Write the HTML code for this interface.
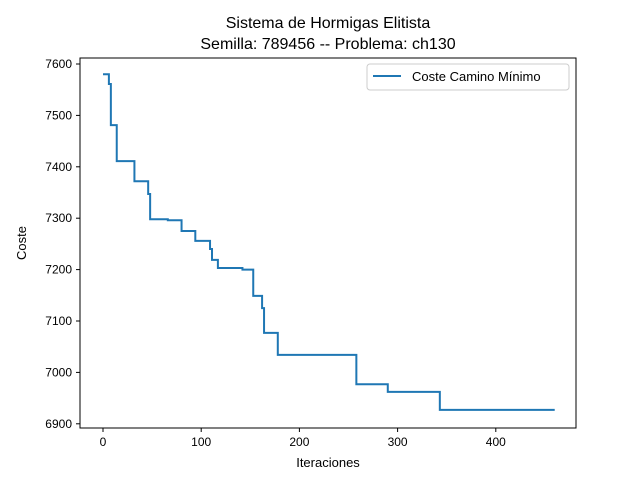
<!DOCTYPE html>
<html><head><meta charset="utf-8"><style>body{margin:0;background:#fff}svg{font-family:"Liberation Sans","DejaVu Sans",sans-serif}</style></head>
<body>
<svg id="c" width="640" height="480" viewBox="0 0 640 480">
<rect width="640" height="480" fill="#fff"/>
<text x="328" y="28" font-size="16" text-anchor="middle">Sistema de Hormigas Elitista</text>
<text x="328" y="49" font-size="16" text-anchor="middle">Semilla: 789456 -- Problema: ch130</text>
<g id="ax"></g>
<polyline id="line" fill="none" stroke="#1f77b4" stroke-width="2"/>
<rect x="80" y="58" width="496" height="370" fill="none" stroke="#000" stroke-width="1"/>
<text x="328" y="467" font-size="13" text-anchor="middle">Iteraciones</text>
<text x="26" y="243" font-size="13" text-anchor="middle" transform="rotate(-90 26 243)">Coste</text>
<g>
<rect x="367" y="64" width="202" height="26" fill="#fff" stroke="#ccc" rx="3"/>
<line x1="373" y1="76" x2="401" y2="76" stroke="#1f77b4" stroke-width="2"/>
<text x="412" y="81" font-size="13">Coste Camino Mínimo</text>
</g>
</svg>
<script>
const iters=[0,6,8,14,32,46,48,66,80,94,109,111,117,142,153,162,164,178,258,290,343,460];
const costs=[7580,7561,7481,7411,7372,7347,7298,7296,7275,7256,7240,7219,7203,7200,7149,7125,7077,7034,6977,6962,6927,6927];
const xTicks=[0,100,200,300,400];
const yTicks=[6900,7000,7100,7200,7300,7400,7500,7600];
const X=v=>103+v*0.982, Y=v=>64+(7600-v)*0.514;
const pts=[];
for(let i=0;i<iters.length;i++){
 if(i>0)pts.push(X(iters[i])+','+Y(costs[i-1]));
 pts.push(X(iters[i])+','+Y(costs[i]));
}
document.getElementById('line').setAttribute('points',pts.join(' '));
const ax=document.getElementById('ax');const ns='http://www.w3.org/2000/svg';
function mk(t,a,txt){const e=document.createElementNS(ns,t);for(const k in a)e.setAttribute(k,a[k]);if(txt!=null)e.textContent=txt;ax.appendChild(e);return e;}
xTicks.forEach(v=>{const x=X(v);
 const l=mk('line',{x1:x,x2:x,y1:428,y2:432,stroke:'#000'});
 
 
 const t=mk('text',{x:x,y:446,'font-size':12,'text-anchor':'middle'},v);
 
 });
yTicks.forEach(v=>{const y=Y(v);
 const l=mk('line',{x1:76,x2:80,y1:y,y2:y,stroke:'#000'});
 
 
 const t=mk('text',{x:72,y:y+4,'font-size':12,'text-anchor':'end'},v);
 
 });
</script>
</body></html>
